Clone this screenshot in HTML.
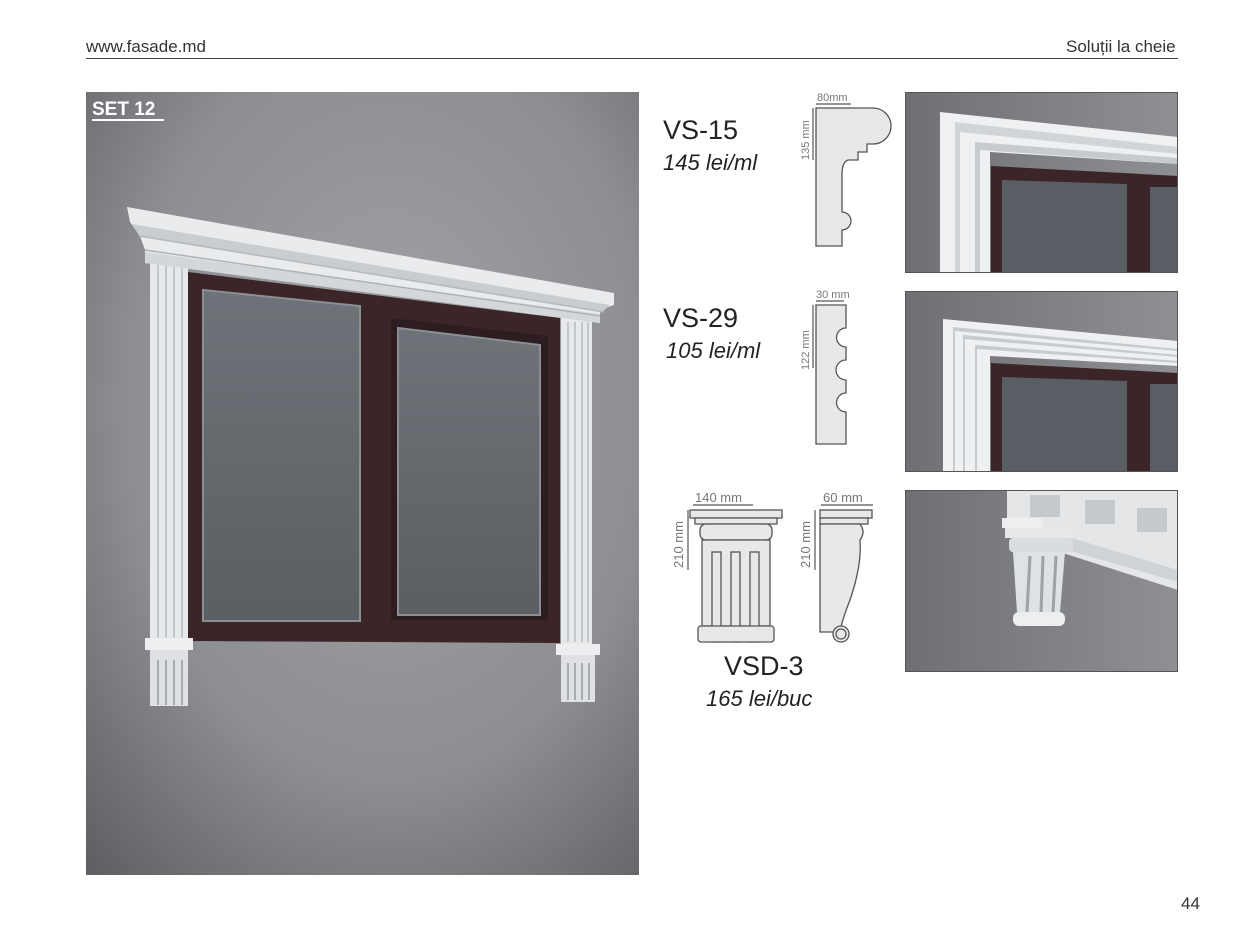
<!DOCTYPE html>
<html><head><meta charset="utf-8"><style>
body{margin:0;width:1255px;height:946px;background:#fff;font-family:"Liberation Sans",sans-serif;position:relative;overflow:hidden}
.t{position:absolute;color:#222;white-space:nowrap}
.ph{position:absolute;left:905px;width:273px;height:181px;overflow:hidden}
</style></head><body>
<div class="t" style="left:86px;top:37px;font-size:17px;color:#333">www.fasade.md</div>
<div class="t" style="left:1066px;top:37px;font-size:17px;color:#333">Soluții la cheie</div>
<div style="position:absolute;left:86px;top:58px;width:1092px;height:1px;background:#444"></div>
<div class="t" style="left:1181px;top:894px;font-size:17px;color:#333">44</div>

<svg style="position:absolute;left:86px;top:92px" width="553" height="783" viewBox="86 92 553 783">
<defs>
<radialGradient id="bg" cx="0.55" cy="0.4" r="0.8"><stop offset="0" stop-color="#a2a4a8"/><stop offset="0.6" stop-color="#8c8e92"/><stop offset="1" stop-color="#5e6064"/></radialGradient>
<linearGradient id="gl" x1="0" y1="0" x2="0" y2="1"><stop offset="0" stop-color="#6d7378"/><stop offset="1" stop-color="#5a5f63"/></linearGradient>
</defs>
<rect x="86" y="92" width="553" height="783" fill="url(#bg)"/>
<text x="92" y="115" font-size="19" font-weight="bold" fill="#fff" font-family="Liberation Sans">SET 12</text>
<rect x="92" y="119" width="72" height="2" fill="#fff"/>
<polygon points="188,272 560,318 560,643 188,641" fill="#3b2528"/>
<polygon points="203,290 360,306 360,621 203,621" fill="url(#gl)" stroke="#8a8f92" stroke-width="2"/>
<polygon points="391,318 548,336 548,620 391,620" fill="#2e1d20"/>
<polygon points="398,328 540,345 540,615 398,615" fill="url(#gl)" stroke="#8a8f92" stroke-width="2"/>
<rect x="150" y="258" width="38" height="382" fill="#e6e8ea"/>
<g stroke="#b8bcc0" stroke-width="1.5"><line x1="158" y1="262" x2="158" y2="638"/><line x1="166" y1="262" x2="166" y2="638"/><line x1="174" y1="262" x2="174" y2="638"/><line x1="182" y1="262" x2="182" y2="638"/></g>
<rect x="561" y="318" width="31" height="326" fill="#e6e8ea"/>
<g stroke="#b8bcc0" stroke-width="1.5"><line x1="568" y1="322" x2="568" y2="642"/><line x1="575" y1="322" x2="575" y2="642"/><line x1="582" y1="322" x2="582" y2="642"/><line x1="588" y1="322" x2="588" y2="642"/></g>
<rect x="145" y="638" width="48" height="12" fill="#eceef0"/>
<rect x="150" y="650" width="38" height="56" fill="#dfe1e4"/>
<g stroke="#a8acb0" stroke-width="2"><line x1="158" y1="660" x2="158" y2="705"/><line x1="166" y1="660" x2="166" y2="705"/><line x1="174" y1="660" x2="174" y2="705"/><line x1="182" y1="660" x2="182" y2="705"/></g>
<rect x="556" y="644" width="44" height="11" fill="#eceef0"/>
<rect x="561" y="655" width="34" height="47" fill="#dfe1e4"/>
<g stroke="#a8acb0" stroke-width="2"><line x1="568" y1="663" x2="568" y2="700"/><line x1="575" y1="663" x2="575" y2="700"/><line x1="582" y1="663" x2="582" y2="700"/><line x1="589" y1="663" x2="589" y2="700"/></g>
<polygon points="127,207 614,293 614,305 600,310 600,323 145,263 145,250 140,236 130,222" fill="#e9ebed"/>
<polygon points="132,224 610,305 602,312 140,237" fill="#c9cdd1"/>
<polygon points="145,252 600,314 600,323 145,263" fill="#d4d7da"/>
<line x1="140" y1="236" x2="604" y2="312" stroke="#b5b9bd" stroke-width="1.5"/>
<line x1="145" y1="250" x2="600" y2="316" stroke="#aeb2b6" stroke-width="1.5"/>
</svg>

<div class="t" style="left:663px;top:115px;font-size:27px">VS-15</div>
<div class="t" style="left:663px;top:150px;font-size:22px;font-style:italic">145 lei/ml</div>
<div class="t" style="left:663px;top:303px;font-size:27px">VS-29</div>
<div class="t" style="left:666px;top:338px;font-size:22px;font-style:italic">105 lei/ml</div>
<div class="t" style="left:724px;top:651px;font-size:27px">VSD-3</div>
<div class="t" style="left:706px;top:686px;font-size:22px;font-style:italic">165 lei/buc</div>

<svg style="position:absolute;left:650px;top:85px" width="255" height="640" viewBox="650 85 255 640" font-family="Liberation Sans" fill="#777">
<g stroke="#555" stroke-width="1.3" fill="#e8e8e8">
<path d="M816,108 L873,108 A17,17 0 0 1 873,144 L867,144 L867,152 L858,152 L858,160 L848,160 Q842,162 842,175 L842,212 A9,9 0 0 1 842,230 L842,246 L816,246 Z"/>
<path d="M816,305 L846,305 L846,328 A9,9 0 0 0 846,347 L846,360 A9,9 0 0 0 846,380 L846,393 A9,9 0 0 0 846,412 L846,444 L816,444 Z"/>
<rect x="690" y="510" width="92" height="8"/>
<rect x="695" y="518" width="82" height="6"/>
<rect x="700" y="524" width="72" height="16" rx="6"/>
<rect x="702" y="540" width="68" height="86"/>
<rect x="712" y="552" width="9" height="90"/><rect x="731" y="552" width="9" height="90"/><rect x="750" y="552" width="9" height="90"/>
<rect x="698" y="626" width="76" height="16" rx="3"/>
<rect x="820" y="510" width="52" height="8"/>
<rect x="820" y="518" width="48" height="6"/>
<path d="M820,524 L860,524 Q866,532 860,540 Q862,565 850,600 Q842,620 840,632 L820,632 Z"/>
<circle cx="841" cy="634" r="8"/><circle cx="841" cy="634" r="5"/>
</g>
<g stroke="#555" stroke-width="1.2">
<line x1="816" y1="104" x2="851" y2="104"/><line x1="813" y1="108" x2="813" y2="160"/>
<line x1="816" y1="301" x2="844" y2="301"/><line x1="813" y1="305" x2="813" y2="368"/>
<line x1="693" y1="505" x2="753" y2="505"/><line x1="688" y1="510" x2="688" y2="570"/>
<line x1="821" y1="505" x2="873" y2="505"/><line x1="815" y1="510" x2="815" y2="570"/>
</g>
<text x="817" y="101" font-size="11">80mm</text>
<text x="816" y="298" font-size="11">30 mm</text>
<text x="695" y="502" font-size="13">140 mm</text>
<text x="823" y="502" font-size="13">60 mm</text>
<text transform="translate(809,160) rotate(-90)" font-size="11">135 mm</text>
<text transform="translate(809,370) rotate(-90)" font-size="11">122 mm</text>
<text transform="translate(683,568) rotate(-90)" font-size="13">210 mm</text>
<text transform="translate(810,568) rotate(-90)" font-size="13">210 mm</text>
</svg>

<div class="ph" style="top:92px">
<svg width="273" height="181"><defs><linearGradient id="w1" x1="0" x2="1"><stop offset="0" stop-color="#6e7074"/><stop offset="1" stop-color="#8e9094"/></linearGradient></defs>
<rect width="273" height="181" fill="url(#w1)"/>
<polygon points="35,20 273,45 273,72 85,60 85,181 35,181" fill="#eef0f2"/>
<polygon points="50,30 273,55 273,62 55,40 55,181 50,181" fill="#d2d5d8"/>
<polygon points="70,50 273,66 273,72 75,58 75,181 70,181" fill="#c8cbce"/>
<polygon points="86,74 273,84 273,181 86,181" fill="#3b2528"/>
<polygon points="97,88 222,92 222,181 97,181" fill="#585e63"/>
<rect x="245" y="95" width="28" height="86" fill="#585e63"/>
<rect x="0.5" y="0.5" width="272" height="180" fill="none" stroke="#555"/>
</svg></div>
<div class="ph" style="top:291px">
<svg width="273" height="181"><rect width="273" height="181" fill="url(#w1)"/>
<polygon points="38,28 273,50 273,75 85,65 85,181 38,181" fill="#eef0f2"/>
<polygon points="48,36 273,58 273,60 50,40 50,181 48,181" fill="#c8cbce"/>
<polygon points="58,44 273,64 273,66 60,48 60,181 58,181" fill="#c8cbce"/>
<polygon points="70,54 273,70 273,72 72,58 72,181 70,181" fill="#c8cbce"/>
<polygon points="86,72 273,82 273,181 86,181" fill="#3b2528"/>
<polygon points="97,86 222,90 222,181 97,181" fill="#585e63"/>
<rect x="245" y="93" width="28" height="88" fill="#585e63"/>
<rect x="0.5" y="0.5" width="272" height="180" fill="none" stroke="#555"/>
</svg></div>
<div class="ph" style="top:490px;height:182px">
<svg width="273" height="182"><rect width="273" height="182" fill="url(#w1)"/>
<polygon points="102,0 273,0 273,100 102,45" fill="#e4e6e8"/>
<polygon points="100,28 273,80 273,92 100,42" fill="#d0d3d6"/>
<rect x="125" y="5" width="30" height="22" fill="#c6c9cc"/><rect x="180" y="10" width="30" height="24" fill="#c6c9cc"/><rect x="232" y="18" width="30" height="24" fill="#c6c9cc"/>
<rect x="97" y="28" width="40" height="10" fill="#eceef0"/>
<rect x="100" y="38" width="68" height="10" fill="#e6e8ea"/>
<rect x="104" y="48" width="64" height="14" fill="#dadde0" rx="4"/>
<path d="M108,62 L160,62 L155,122 L112,122 Z" fill="#dfe2e5"/>
<g stroke="#9ea2a6" stroke-width="3"><line x1="125" y1="66" x2="122" y2="122"/><line x1="138" y1="66" x2="136" y2="122"/><line x1="151" y1="66" x2="148" y2="122"/></g>
<rect x="108" y="122" width="52" height="14" rx="6" fill="#eceef0"/>
<rect x="0.5" y="0.5" width="272" height="181" fill="none" stroke="#555"/>
</svg></div>
</body></html>
